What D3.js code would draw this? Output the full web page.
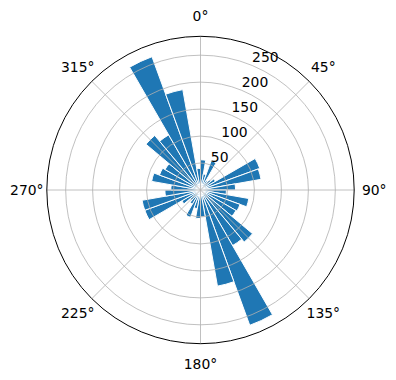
<!DOCTYPE html>
<html>
<head>
<meta charset="utf-8">
<script src="https://cdn.jsdelivr.net/npm/d3@7"></script>
<style>
  body { margin: 0; background: #fff; }
  text { font-family: "DejaVu Sans", sans-serif; font-size: 13.9px; fill: #000; }
</style>
</head>
<body>
<svg id="chart"></svg>
<script>
// bin centres in degrees (clockwise from north), 10 degree bins
const binCentres = d3.range(5, 360, 10);
// counts per bin
const counts = [
  56, 30, 58, 20, 25, 32, 117, 114, 65,
  48, 91, 78, 76, 126, 119, 267, 181, 50,
  53, 35, 54, 30, 25, 40, 110, 110, 66,
  55, 92, 81, 76, 132, 118, 263, 189, 40
];
const radialTicks = [50, 100, 150, 200, 250];
const angleTicks = [0, 45, 90, 135, 180, 225, 270, 315];
const rMax = 285;

const width = 396, height = 380;
const cx = 200.5, cy = 190, outerR = 153.7;

const svg = d3.select('#chart')
    .attr('width', width)
    .attr('height', height);

const g = svg.append('g')
    .attr('transform', `translate(${cx},${cy})`);

const r = d3.scaleLinear().domain([0, rMax]).range([0, outerR]);
const rad = d => d * Math.PI / 180;

// bars
const arc = d3.arc()
    .innerRadius(0)
    .outerRadius(d => r(d.value))
    .startAngle(d => rad(d.theta - 5))
    .endAngle(d => rad(d.theta + 5));

const bars = binCentres.map((theta, i) => ({theta, value: counts[i]}));

g.append('g').selectAll('path')
    .data(bars)
  .join('path')
    .attr('d', arc)
    .attr('fill', '#1f77b4')
    .attr('stroke', '#fff')
    .attr('stroke-width', 1);

// grid (drawn above the bars like matplotlib does)
const grid = g.append('g')
    .attr('fill', 'none')
    .attr('stroke', '#b0b0b0')
    .attr('stroke-width', 0.8);

grid.selectAll('circle')
    .data(radialTicks)
  .join('circle')
    .attr('r', d => r(d));

grid.selectAll('line')
    .data(angleTicks)
  .join('line')
    .attr('x1', 0).attr('y1', 0)
    .attr('x2', d => outerR * Math.sin(rad(d)))
    .attr('y2', d => -outerR * Math.cos(rad(d)));

// outer spine
g.append('circle')
    .attr('r', outerR)
    .attr('fill', 'none')
    .attr('stroke', '#000')
    .attr('stroke-width', 1);

// angle labels
const labelR = outerR + 20;
g.append('g').selectAll('text')
    .data(angleTicks)
  .join('text')
    .attr('x', d => labelR * Math.sin(rad(d)))
    .attr('y', d => -labelR * Math.cos(rad(d)))
    .attr('text-anchor', 'middle')
    .attr('dominant-baseline', 'central')
    .text(d => `${d}°`);

// radial labels at 22.5 degrees
const rlabelAngle = rad(22.5);
g.append('g').selectAll('text')
    .data(radialTicks)
  .join('text')
    .attr('x', d => r(d) * Math.sin(rlabelAngle))
    .attr('y', d => -r(d) * Math.cos(rlabelAngle) - 3)
    .attr('text-anchor', 'start')
    .text(d => d);
</script>
</body>
</html>
